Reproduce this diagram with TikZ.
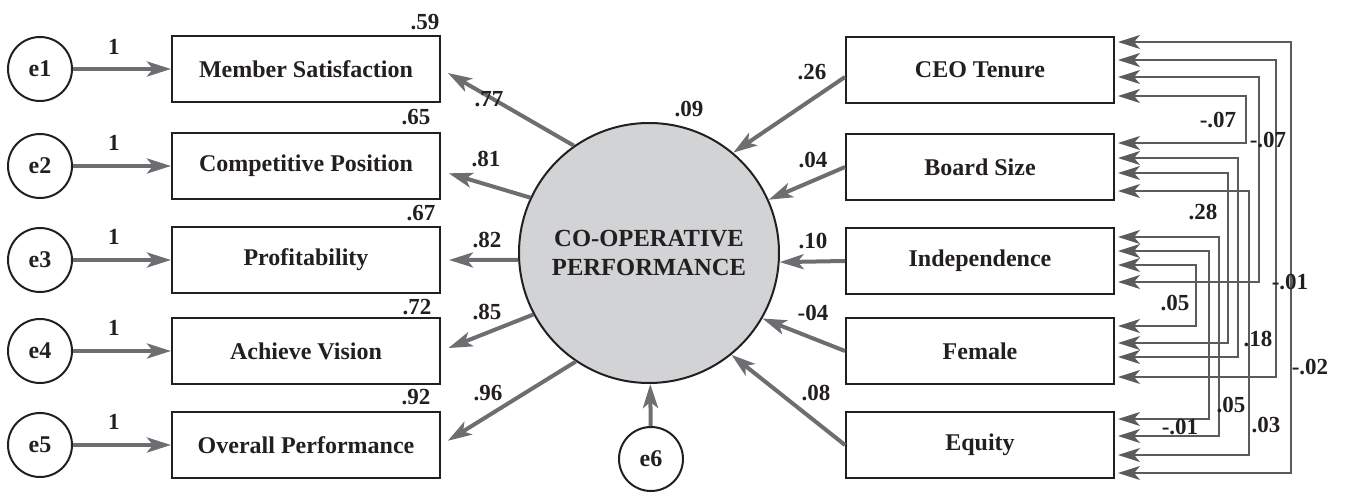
\documentclass[tikz,border=0pt]{standalone}
\usepackage{fontspec}
\setmainfont{Liberation Serif}
\usetikzlibrary{calc,arrows.meta}

\definecolor{arrgray}{HTML}{6D6E71}
\definecolor{covgray}{HTML}{5A5B5D}
\definecolor{latfill}{HTML}{D1D3D4}
\definecolor{inkblack}{HTML}{231F20}

\tikzset{
  obs/.style={draw=inkblack, line width=1pt, minimum width=134pt, minimum height=33pt, inner sep=0pt,
    font=\fontsize{12}{14}\selectfont\bfseries, text=inkblack},
  err/.style={draw=inkblack, circle, line width=1pt, minimum size=32pt, inner sep=0pt,
    font=\fontsize{12}{14}\selectfont\bfseries, text=inkblack},
  lat/.style={draw=inkblack, circle, line width=1pt, fill=latfill, minimum size=130pt, inner sep=0pt,
    align=center, font=\fontsize{12.3}{14.5}\selectfont\bfseries, text=inkblack},
  reg/.style={arrgray, line width=2pt, -{Stealth[length=12pt,width=7.5pt,inset=3pt]}},
  cov/.style={covgray, line width=1.1pt, {Stealth[length=11pt,width=7pt,inset=3pt]}-{Stealth[length=11pt,width=7pt,inset=3pt]}},
  est/.style={font=\fontsize{11.5}{13}\selectfont\bfseries, text=inkblack, inner sep=0pt}
}

\begin{document}
\begin{tikzpicture}[x=0.5pt,y=-0.5pt]
\useasboundingbox (0,0) rectangle (1346,492);

% latent
\node[lat] (perf) at (649,253) {CO-OPERATIVE\\PERFORMANCE};
\node[err] (e6) at (651,459) {e6};
\node[est] (rperf) at (689,109) {.09};

% indicators
\node[obs] (ms) at (306,69) {Member Satisfaction};
\node[obs] (cp) at (306,166) {Competitive Position};
\node[obs] (pr) at (306,260) {Profitability};
\node[obs] (av) at (306,351) {Achieve Vision};
\node[obs] (op) at (306,445) {Overall Performance};

% errors
\node[err] (e1) at (40,69) {e1};
\node[err] (e2) at (40,166) {e2};
\node[err] (e3) at (40,260) {e3};
\node[err] (e4) at (40,351) {e4};
\node[err] (e5) at (40,445) {e5};

% predictors
\node[obs] (ceo) at (980,70) {CEO Tenure};
\node[obs] (bs) at (980,167) {Board Size};
\node[obs] (ind) at (980,261) {Independence};
\node[obs] (fem) at (980,351) {Female};
\node[obs] (eq) at (980,445) {Equity};

% error paths
\draw[reg] (e1) -- (ms);
\draw[reg] (e2) -- (cp);
\draw[reg] (e3) -- (pr);
\draw[reg] (e4) -- (av);
\draw[reg] (e5) -- (op);
\draw[reg] (e6) -- (perf);

\node[est] (w1) at (114,47) {1};
\node[est] (w2) at (114,143) {1};
\node[est] (w3) at (114,237) {1};
\node[est] (w4) at (114,328) {1};
\node[est] (w5) at (114,422) {1};

% R2
\node[est] (r1) at (425,22) {.59};
\node[est] (r2) at (416,117) {.65};
\node[est] (r3) at (421,213) {.67};
\node[est] (r4) at (417,307) {.72};
\node[est] (r5) at (416,397) {.92};

% loadings
\draw[reg, shorten >=4pt] (perf.125) -- (ms.east);
\draw[reg, shorten >=4pt] (perf.155) -- ($(cp.east)+(0,5)$);
\draw[reg, shorten >=4pt] (perf.183) -- (pr.east);
\draw[reg, shorten >=4pt] (perf.208) -- (av.east);
\draw[reg, shorten >=4pt] (perf.236) -- (op.east);

\node[est] (l1) at (489,99) {.77};
\node[est] (l2) at (486,159) {.81};
\node[est] (l3) at (487,240) {.82};
\node[est] (l4) at (487,312) {.85};
\node[est] (l5) at (488,393) {.96};

% regressions
\draw[reg] ($(ceo.west)+(0,7)$) -- (perf.50);
\draw[reg] (bs.west) -- (perf.24);
\draw[reg] (ind.west) -- (perf.356);
\draw[reg] (fem.west) -- (perf.330);
\draw[reg] (eq.west) -- (perf.309);

\node[est] (g1) at (812,72) {.26};
\node[est] (g2) at (813,160) {.04};
\node[est] (g3) at (813,241) {.10};
\node[est] (g4) at (813,313) {-04};
\node[est] (g5) at (816,393) {.08};

% covariances
\draw[cov] ($(ceo.east)+(3,-28)$) -- ++(173,0) |- ($(eq.east)+(3,28)$);
\draw[cov] ($(ceo.east)+(3,-10)$) -- ++(158,0) |- ($(fem.east)+(3,26)$);
\draw[cov] ($(ceo.east)+(3,7)$) -- ++(141,0) |- ($(ind.east)+(3,21)$);
\draw[cov] ($(ceo.east)+(3,26)$) -- ++(128,0) |- ($(bs.east)+(3,-24)$);
\draw[cov] ($(bs.east)+(3,-9)$) -- ++(120,0) |- ($(fem.east)+(3,6)$);
\draw[cov] ($(bs.east)+(3,6)$) -- ++(110,0) |- ($(fem.east)+(3,-8)$);
\draw[cov] ($(bs.east)+(3,24)$) -- ++(131,0) |- ($(eq.east)+(3,10)$);
\draw[cov] ($(ind.east)+(3,-24)$) -- ++(101,0) |- ($(eq.east)+(3,-9)$);
\draw[cov] ($(ind.east)+(3,-10)$) -- ++(91,0) |- ($(eq.east)+(3,-26)$);
\draw[cov] ($(ind.east)+(3,4)$) -- ++(78,0) |- ($(fem.east)+(3,-25)$);

\node[est] (c1) at (1218,120) {-.07};
\node[est] (c2) at (1268,140) {-.07};
\node[est] (c3) at (1203,212) {.28};
\node[est] (c4) at (1290,282) {-.01};
\node[est] (c5) at (1175,303) {.05};
\node[est] (c6) at (1258,339) {.18};
\node[est] (c7) at (1310,367) {-.02};
\node[est] (c8) at (1231,405) {.05};
\node[est] (c9) at (1266,425) {.03};
\node[est] (c10) at (1180,427) {-.01};

\end{tikzpicture}
\end{document}
